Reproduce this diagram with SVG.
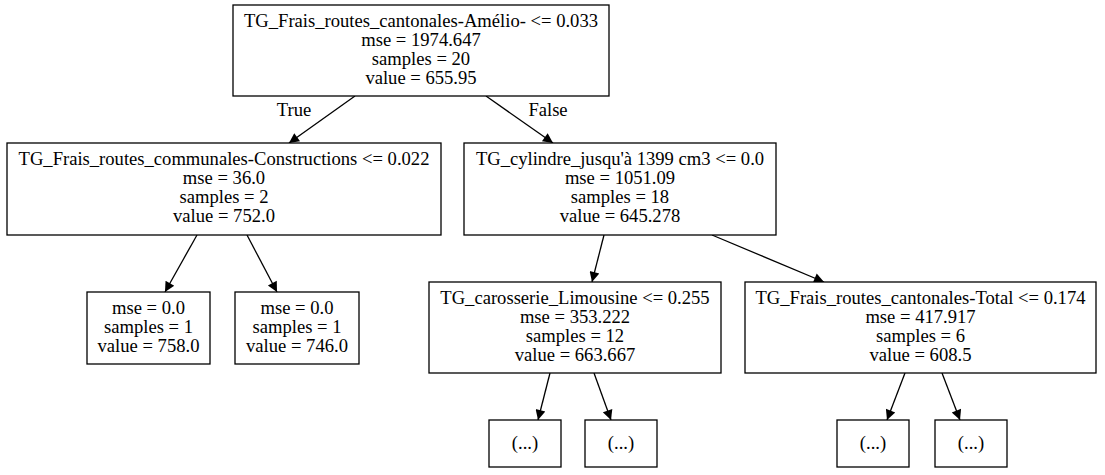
<svg xmlns="http://www.w3.org/2000/svg" width="1105" height="475" viewBox="0 0 1105 475">
<style>
.n rect{fill:#fff;stroke:#000;stroke-width:1.3}
text{font-family:"Liberation Serif","Times New Roman",serif;font-size:18.6px;fill:#000;text-anchor:middle}
.e line{stroke:#000;stroke-width:1.3;marker-end:url(#ah)}
</style>
<defs>
<marker id="ah" viewBox="0 0 10 10" refX="10" refY="5" markerUnits="userSpaceOnUse" markerWidth="13" markerHeight="10" orient="auto">
<path d="M0,0 L10,5 L0,10 z" fill="#000"/>
</marker>
</defs>
<rect width="1105" height="475" fill="#fff"/>
<g class="e" id="connectors">
<line x1="355" y1="96" x2="289" y2="143"/>
<line x1="486" y1="96" x2="553" y2="143"/>
<line x1="197" y1="235" x2="165" y2="292"/>
<line x1="247" y1="235" x2="277" y2="292"/>
<line x1="604" y1="235" x2="592" y2="282"/>
<line x1="712" y1="235" x2="824" y2="282"/>
<line x1="550" y1="373" x2="538" y2="420"/>
<line x1="594" y1="373" x2="611" y2="420"/>
<line x1="905" y1="373" x2="887" y2="420"/>
<line x1="942" y1="373" x2="960" y2="420"/>
<text x="294" y="116">True</text>
<text x="548" y="116">False</text>
</g>
<g class="n" id="node0">
<rect x="233" y="5" width="376" height="91"/>
<text x="421" y="26.5">TG_Frais_routes_cantonales-Amélio- &lt;= 0.033</text>
<text x="421" y="45.5">mse = 1974.647</text>
<text x="421" y="64.5">samples = 20</text>
<text x="421" y="83.5">value = 655.95</text>
</g>
<g class="n" id="node1">
<rect x="7" y="143" width="434" height="92"/>
<text x="224" y="165">TG_Frais_routes_communales-Constructions &lt;= 0.022</text>
<text x="224" y="184">mse = 36.0</text>
<text x="224" y="203">samples = 2</text>
<text x="224" y="222">value = 752.0</text>
</g>
<g class="n" id="node2">
<rect x="87" y="292" width="123" height="72"/>
<text x="148.5" y="313.5">mse = 0.0</text>
<text x="148.5" y="332.5">samples = 1</text>
<text x="148.5" y="351.5">value = 758.0</text>
</g>
<g class="n" id="node3">
<rect x="235" y="292" width="124" height="72"/>
<text x="297" y="313.5">mse = 0.0</text>
<text x="297" y="332.5">samples = 1</text>
<text x="297" y="351.5">value = 746.0</text>
</g>
<g class="n" id="node4">
<rect x="464" y="143" width="312" height="92"/>
<text x="620" y="165">TG_cylindre_jusqu'à 1399 cm3 &lt;= 0.0</text>
<text x="620" y="184">mse = 1051.09</text>
<text x="620" y="203">samples = 18</text>
<text x="620" y="222">value = 645.278</text>
</g>
<g class="n" id="node5">
<rect x="429" y="282" width="292" height="91"/>
<text x="575" y="303.5">TG_carosserie_Limousine &lt;= 0.255</text>
<text x="575" y="322.5">mse = 353.222</text>
<text x="575" y="341.5">samples = 12</text>
<text x="575" y="360.5">value = 663.667</text>
</g>
<g class="n" id="node6">
<rect x="489" y="420" width="72" height="47"/>
<text x="525" y="449">(...)</text>
</g>
<g class="n" id="node7">
<rect x="585" y="420" width="72" height="47"/>
<text x="621" y="449">(...)</text>
</g>
<g class="n" id="node8">
<rect x="745" y="282" width="351" height="91"/>
<text x="920.5" y="303.5">TG_Frais_routes_cantonales-Total &lt;= 0.174</text>
<text x="920.5" y="322.5">mse = 417.917</text>
<text x="920.5" y="341.5">samples = 6</text>
<text x="920.5" y="360.5">value = 608.5</text>
</g>
<g class="n" id="node9">
<rect x="837" y="420" width="72" height="47"/>
<text x="873" y="449">(...)</text>
</g>
<g class="n" id="node10">
<rect x="935" y="420" width="72" height="47"/>
<text x="971" y="449">(...)</text>
</g>
</svg>
